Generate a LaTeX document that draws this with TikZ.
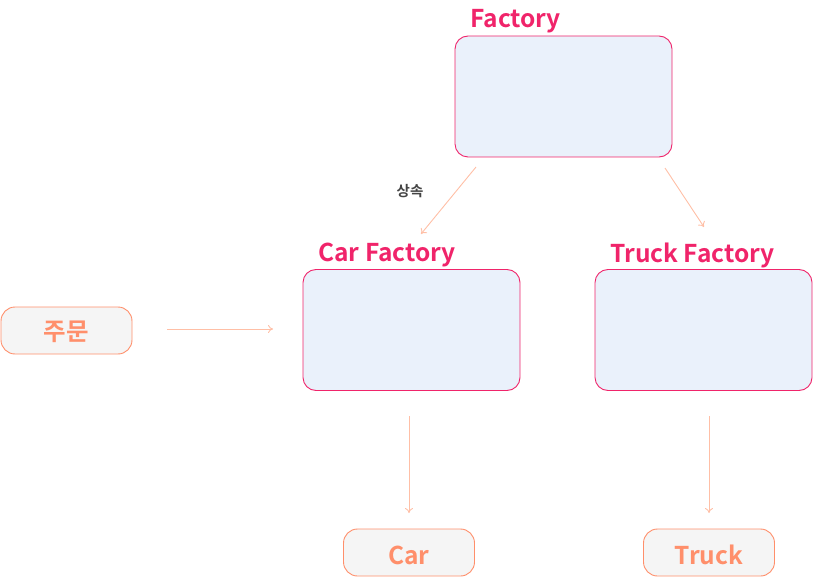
\documentclass[tikz,border=0pt]{standalone}
\usepackage{fontspec}
\setmainfont{Noto Sans CJK KR}[BoldFont={* Bold}]
\usetikzlibrary{arrows.meta}
\definecolor{pinkc}{HTML}{F0246A}
\definecolor{boxfill}{HTML}{EAF1FB}
\definecolor{orangec}{HTML}{FF8F6B}
\definecolor{arrowc}{HTML}{FFBFA6}
\definecolor{greyfill}{HTML}{F5F5F5}
\definecolor{labelc}{HTML}{444444}
\tikzset{
  bigbox/.style={draw=pinkc, fill=boxfill, line width=0.9pt, rounded corners=13pt, minimum width=217pt, minimum height=121pt, inner sep=0pt},
  smallbox/.style={draw=orangec, fill=greyfill, line width=0.9pt, rounded corners=14pt, minimum width=131pt, minimum height=47pt, inner sep=0pt},
  smalltext/.style={text=orangec, inner sep=0pt, font=\fontsize{24.5pt}{28pt}\selectfont\bfseries},
  title/.style={text=pinkc, anchor=west, inner sep=0pt, font=\fontsize{24.5pt}{28pt}\selectfont\bfseries},
  conn/.style={draw=arrowc, line width=0.9pt, -{To[length=5pt,width=8pt]}},
}
\begin{document}
\begin{tikzpicture}[x=1pt,y=-1pt]
\useasboundingbox (0,0) rectangle (813,577);
\node[bigbox] (fac) at (563.5,96.5) {};
\node[bigbox] (car) at (411.5,330) {};
\node[bigbox] (truck) at (703.5,330) {};
\node[title] (facl) at (470,21) {Factory};
\node[title] (carl) at (318,255) {Car Factory};
\node[title] (truckl) at (610,255) {Truck Factory};
\node[smallbox] (order) at (66.5,330.5) {};
\node[smallbox] (carp) at (409,552.5) {};
\node[smallbox] (truckp) at (709,552.5) {};
\node[smalltext] (ordert) at (66.5,332) {주문};
\node[smalltext] (carpt) at (409,555) {Car};
\node[smalltext] (truckpt) at (709,555) {Truck};
\node[text=labelc, inner sep=0pt, font=\fontsize{14.5pt}{17pt}\selectfont\bfseries] (inh) at (410,191) {상속};
\coordinate (a1s) at (476,167);
\coordinate (a1e) at (421,234);
\coordinate (a2s) at (665,168);
\coordinate (a2e) at (704,227);
\coordinate (a3s) at (167,329);
\coordinate (a3e) at (273,329);
\coordinate (a4s) at (409,416);
\coordinate (a4e) at (409,513);
\coordinate (a5s) at (709,416);
\coordinate (a5e) at (709,513);
\draw[conn] (a1s) -- (a1e);
\draw[conn] (a2s) -- (a2e);
\draw[conn] (a3s) -- (a3e);
\draw[conn] (a4s) -- (a4e);
\draw[conn] (a5s) -- (a5e);
\end{tikzpicture}
\end{document}
